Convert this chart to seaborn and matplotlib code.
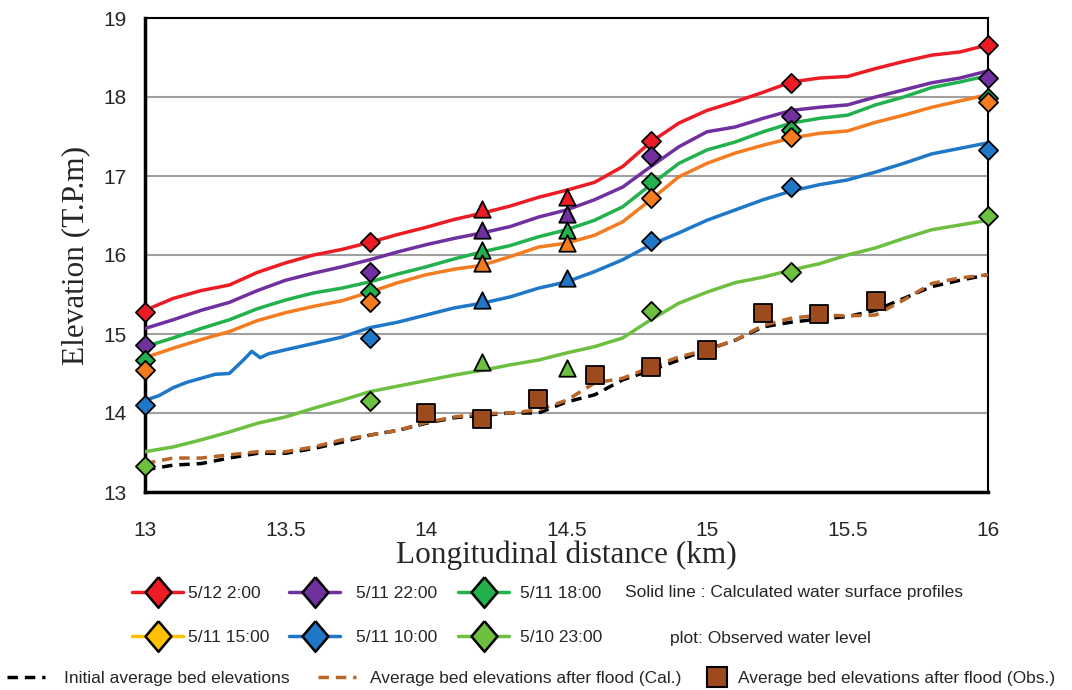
import numpy as np
import pandas as pd
import seaborn as sns
import matplotlib.pyplot as plt
from matplotlib.lines import Line2D

# Calculated water surface profiles (km, elevation T.P.m)
km_calc = [13.0, 13.1, 13.2, 13.3, 13.4, 13.5, 13.6, 13.7, 13.8, 13.9, 14.0,
           14.1, 14.2, 14.3, 14.4, 14.5, 14.6, 14.7, 14.8, 14.9, 15.0,
           15.1, 15.2, 15.3, 15.4, 15.5, 15.6, 15.7, 15.8, 15.9, 16.0]
calc_0512_0200 = [15.30, 15.45, 15.55, 15.62, 15.78, 15.90, 16.00, 16.07, 16.16, 16.26, 16.35,
                  16.45, 16.53, 16.62, 16.73, 16.82, 16.92, 17.12, 17.43, 17.67, 17.83,
                  17.94, 18.06, 18.19, 18.24, 18.26, 18.36, 18.45, 18.53, 18.57, 18.66]
calc_0511_2200 = [15.07, 15.18, 15.30, 15.40, 15.55, 15.68, 15.77, 15.85, 15.94, 16.04, 16.13,
                  16.21, 16.28, 16.36, 16.48, 16.57, 16.70, 16.86, 17.12, 17.37, 17.56,
                  17.62, 17.73, 17.83, 17.87, 17.90, 18.00, 18.09, 18.18, 18.24, 18.33]
calc_0511_1800 = [14.84, 14.95, 15.07, 15.18, 15.32, 15.43, 15.52, 15.58, 15.66, 15.76, 15.85,
                  15.95, 16.04, 16.12, 16.23, 16.32, 16.44, 16.61, 16.89, 17.16, 17.33,
                  17.43, 17.56, 17.67, 17.73, 17.77, 17.90, 18.00, 18.12, 18.19, 18.27]
calc_0511_1500 = [14.70, 14.82, 14.93, 15.03, 15.17, 15.27, 15.35, 15.42, 15.53, 15.65, 15.75,
                  15.82, 15.87, 15.98, 16.10, 16.15, 16.25, 16.42, 16.70, 16.99, 17.16,
                  17.29, 17.39, 17.48, 17.54, 17.57, 17.68, 17.77, 17.87, 17.95, 18.03]
calc_0510_2300 = [13.51, 13.57, 13.66, 13.76, 13.87, 13.95, 14.06, 14.16, 14.27, 14.34, 14.41,
                  14.48, 14.54, 14.61, 14.67, 14.76, 14.84, 14.95, 15.18, 15.39, 15.53,
                  15.65, 15.72, 15.81, 15.89, 16.00, 16.09, 16.21, 16.32, 16.38, 16.44]

km_blue = [13.0, 13.05, 13.1, 13.15, 13.2, 13.25, 13.3, 13.35, 13.38, 13.41, 13.44,
           13.5, 13.6, 13.7, 13.8, 13.9, 14.0, 14.1, 14.2, 14.3, 14.4, 14.5,
           14.6, 14.7, 14.8, 14.9, 15.0, 15.1, 15.2, 15.3, 15.4, 15.5,
           15.6, 15.7, 15.8, 15.9, 16.0]
calc_0511_1000 = [14.16, 14.22, 14.32, 14.39, 14.44, 14.49, 14.50, 14.67, 14.78, 14.70, 14.75,
                  14.80, 14.88, 14.96, 15.08, 15.15, 15.24, 15.33, 15.39, 15.47, 15.58, 15.66,
                  15.79, 15.94, 16.13, 16.28, 16.44, 16.57, 16.70, 16.81, 16.89, 16.95,
                  17.05, 17.16, 17.28, 17.35, 17.42]

# Bed elevations
bed_initial = [13.28, 13.34, 13.36, 13.43, 13.49, 13.49, 13.55, 13.63, 13.72, 13.78, 13.87,
               13.94, 13.97, 14.00, 14.00, 14.14, 14.23, 14.42, 14.54, 14.67, 14.80,
               14.92, 15.09, 15.15, 15.19, 15.22, 15.30, 15.45, 15.60, 15.68, 15.75]
bed_after_cal = [13.36, 13.43, 13.43, 13.47, 13.51, 13.51, 13.57, 13.66, 13.72, 13.78, 13.88,
                 13.95, 13.99, 14.00, 14.04, 14.16, 14.38, 14.44, 14.58, 14.71, 14.80,
                 14.92, 15.11, 15.20, 15.24, 15.23, 15.24, 15.43, 15.64, 15.71, 15.75]
km_bed_obs = [14.0, 14.2, 14.4, 14.6, 14.8, 15.0, 15.2, 15.4, 15.6]
bed_after_obs = [14.00, 13.93, 14.18, 14.48, 14.58, 14.80, 15.27, 15.25, 15.42]

# Observed water levels (diamonds at 13, 13.8, 14.8, 15.3, 16; triangles at 14.2, 14.5)
km_obs_d = [13.0, 13.8, 14.8, 15.3, 16.0]
km_obs_t = [14.2, 14.5]
obs_0512_0200_d = [15.28, 16.16, 17.44, 18.18, 18.66]
obs_0512_0200_t = [16.58, 16.73]
obs_0511_2200_d = [14.86, 15.79, 17.25, 17.76, 18.24]
obs_0511_2200_t = [16.32, 16.52]
obs_0511_1800_d = [14.67, 15.53, 16.92, 17.58, 17.99]
obs_0511_1800_t = [16.06, 16.32]
obs_0511_1500_d = [14.54, 15.41, 16.72, 17.50, 17.94]
obs_0511_1500_t = [15.90, 16.15]
obs_0511_1000_d = [14.10, 14.95, 16.18, 16.86, 17.33]
obs_0511_1000_t = [15.43, 15.71]
obs_0510_2300_d = [13.33, 14.15, 15.29, 15.78, 16.50]
obs_0510_2300_t = [14.64, 14.57]

labels = ["5/12 2:00", "5/11 22:00", "5/11 18:00", "5/11 15:00", "5/11 10:00", "5/10 23:00"]
line_colors = ["#ED1C24", "#7030A0", "#22B14C", "#F47C20", "#1F77C8", "#6CBF3F"]
legend_colors = ["#ED1C24", "#7030A0", "#22B14C", "#FFC000", "#1F77C8", "#6CBF3F"]
bed_line_brown = "#B8652A"
bed_box_brown = "#9C4A1E"

sns.set_theme(style="white")
plt.rcParams["font.family"] = ["Liberation Sans", "DejaVu Sans"]

fig = plt.figure(figsize=(10.72, 6.9), dpi=100)
ax = fig.add_axes([145 / 1072, 1 - 492 / 690, (988 - 145) / 1072, (492 - 18) / 690])

# Bed elevation lines
sns.lineplot(x=km_calc, y=bed_initial, color="black", linewidth=2.5,
             linestyle=(0, (3, 2)), ax=ax, zorder=3)
sns.lineplot(x=km_calc, y=bed_after_cal, color=bed_line_brown, linewidth=2.5,
             linestyle=(0, (3, 2)), ax=ax, zorder=4)

# Calculated water surface profiles
calc = [calc_0512_0200, calc_0511_2200, calc_0511_1800, calc_0511_1500, None, calc_0510_2300]
for i, ys in enumerate(calc):
    if ys is None:
        sns.lineplot(x=km_blue, y=calc_0511_1000, color=line_colors[i], linewidth=2.5, ax=ax, zorder=5)
    else:
        sns.lineplot(x=km_calc, y=ys, color=line_colors[i], linewidth=2.5, ax=ax, zorder=5)

# Observed water levels
obs_d = [obs_0512_0200_d, obs_0511_2200_d, obs_0511_1800_d, obs_0511_1500_d, obs_0511_1000_d, obs_0510_2300_d]
obs_t = [obs_0512_0200_t, obs_0511_2200_t, obs_0511_1800_t, obs_0511_1500_t, obs_0511_1000_t, obs_0510_2300_t]
for i in range(6):
    sns.scatterplot(x=km_obs_d, y=obs_d[i], marker="D", s=95, color=line_colors[i],
                    edgecolor="black", linewidth=1.3, ax=ax, zorder=6, clip_on=False)
    sns.scatterplot(x=km_obs_t, y=obs_t[i], marker="^", s=140, color=line_colors[i],
                    edgecolor="black", linewidth=1.3, ax=ax, zorder=6, clip_on=False)

sns.scatterplot(x=km_bed_obs, y=bed_after_obs, marker="s", s=150, color=bed_box_brown,
                edgecolor="black", linewidth=1.3, ax=ax, zorder=7)

# Axes styling
ax.set_xlim(13, 16)
ax.set_ylim(13, 19)
ax.set_xticks([13, 13.5, 14, 14.5, 15, 15.5, 16])
ax.set_xticklabels(["13", "13.5", "14", "14.5", "15", "15.5", "16"])
ax.set_yticks([13, 14, 15, 16, 17, 18, 19])
ax.yaxis.grid(True, color="#A0A0A0", linewidth=1.5)
ax.set_axisbelow(True)
for side in ["left", "bottom"]:
    ax.spines[side].set_linewidth(2.5)
    ax.spines[side].set_color("black")
for side in ["top", "right"]:
    ax.spines[side].set_linewidth(1.5)
    ax.spines[side].set_color("black")
ax.tick_params(axis="both", direction="out", length=7, width=2, color="black", labelsize=15)
ax.tick_params(axis="y", pad=6)
ax.tick_params(axis="x", pad=14)

ax.set_xlabel("Longitudinal distance (km)", family="Liberation Serif", fontsize=22.5, labelpad=0)
ax.set_ylabel("Elevation (T.P.m)", family="Liberation Serif", fontsize=22.5, labelpad=10)

# Water level legend: one small legend per column, two rows each
diamond = [(0, 1), (0.85, 0), (0, -1), (-0.85, 0), (0, 1)]
handles = [Line2D([], [], color=c, linewidth=2.5, marker=diamond, markersize=22,
                  markerfacecolor=c, markeredgecolor="black", markeredgewidth=1.8)
           for c in legend_colors]
col_x = [132, 289, 458]
col_pad = [0.25, 0.9, 0.6]
for j in range(3):
    fig.legend([handles[j], handles[j + 3]], [labels[j], labels[j + 3]],
               loc="center left", bbox_to_anchor=(col_x[j] / 1072, 1 - 615.5 / 690),
               frameon=False, fontsize=12.5, handlelength=2.95, handletextpad=col_pad[j],
               labelspacing=1.7, borderaxespad=0, borderpad=0)
fig.text(625 / 1072, 1 - 593 / 690, "Solid line : Calculated water surface profiles",
         fontsize=12.5, va="center", ha="left")
fig.text(670 / 1072, 1 - 638 / 690, "plot: Observed water level",
         fontsize=12.5, va="center", ha="left")

# Bed elevation legend, one entry each
bed_handles = [
    Line2D([], [], color="black", linewidth=2.5, linestyle=(0, (3, 2))),
    Line2D([], [], color=bed_line_brown, linewidth=2.5, linestyle=(0, (3, 2))),
    Line2D([], [], color="none", marker="s", markersize=15, markerfacecolor=bed_box_brown,
           markeredgecolor="black", markeredgewidth=1.5),
]
bed_labels = ["Initial average bed elevations", "Average bed elevations after flood (Cal.)",
              "Average bed elevations after flood (Obs.)"]
bed_x = [7, 318, 707]
bed_len = [2.2, 2.2, 1.2]
bed_pad = [1.1, 0.8, 0.6]
for j in range(3):
    fig.legend([bed_handles[j]], [bed_labels[j]], loc="center left",
               bbox_to_anchor=(bed_x[j] / 1072, 1 - 678 / 690), frameon=False,
               fontsize=12.5, handlelength=bed_len[j], handletextpad=bed_pad[j],
               borderaxespad=0, borderpad=0)

fig.savefig("out.png", dpi=100)
